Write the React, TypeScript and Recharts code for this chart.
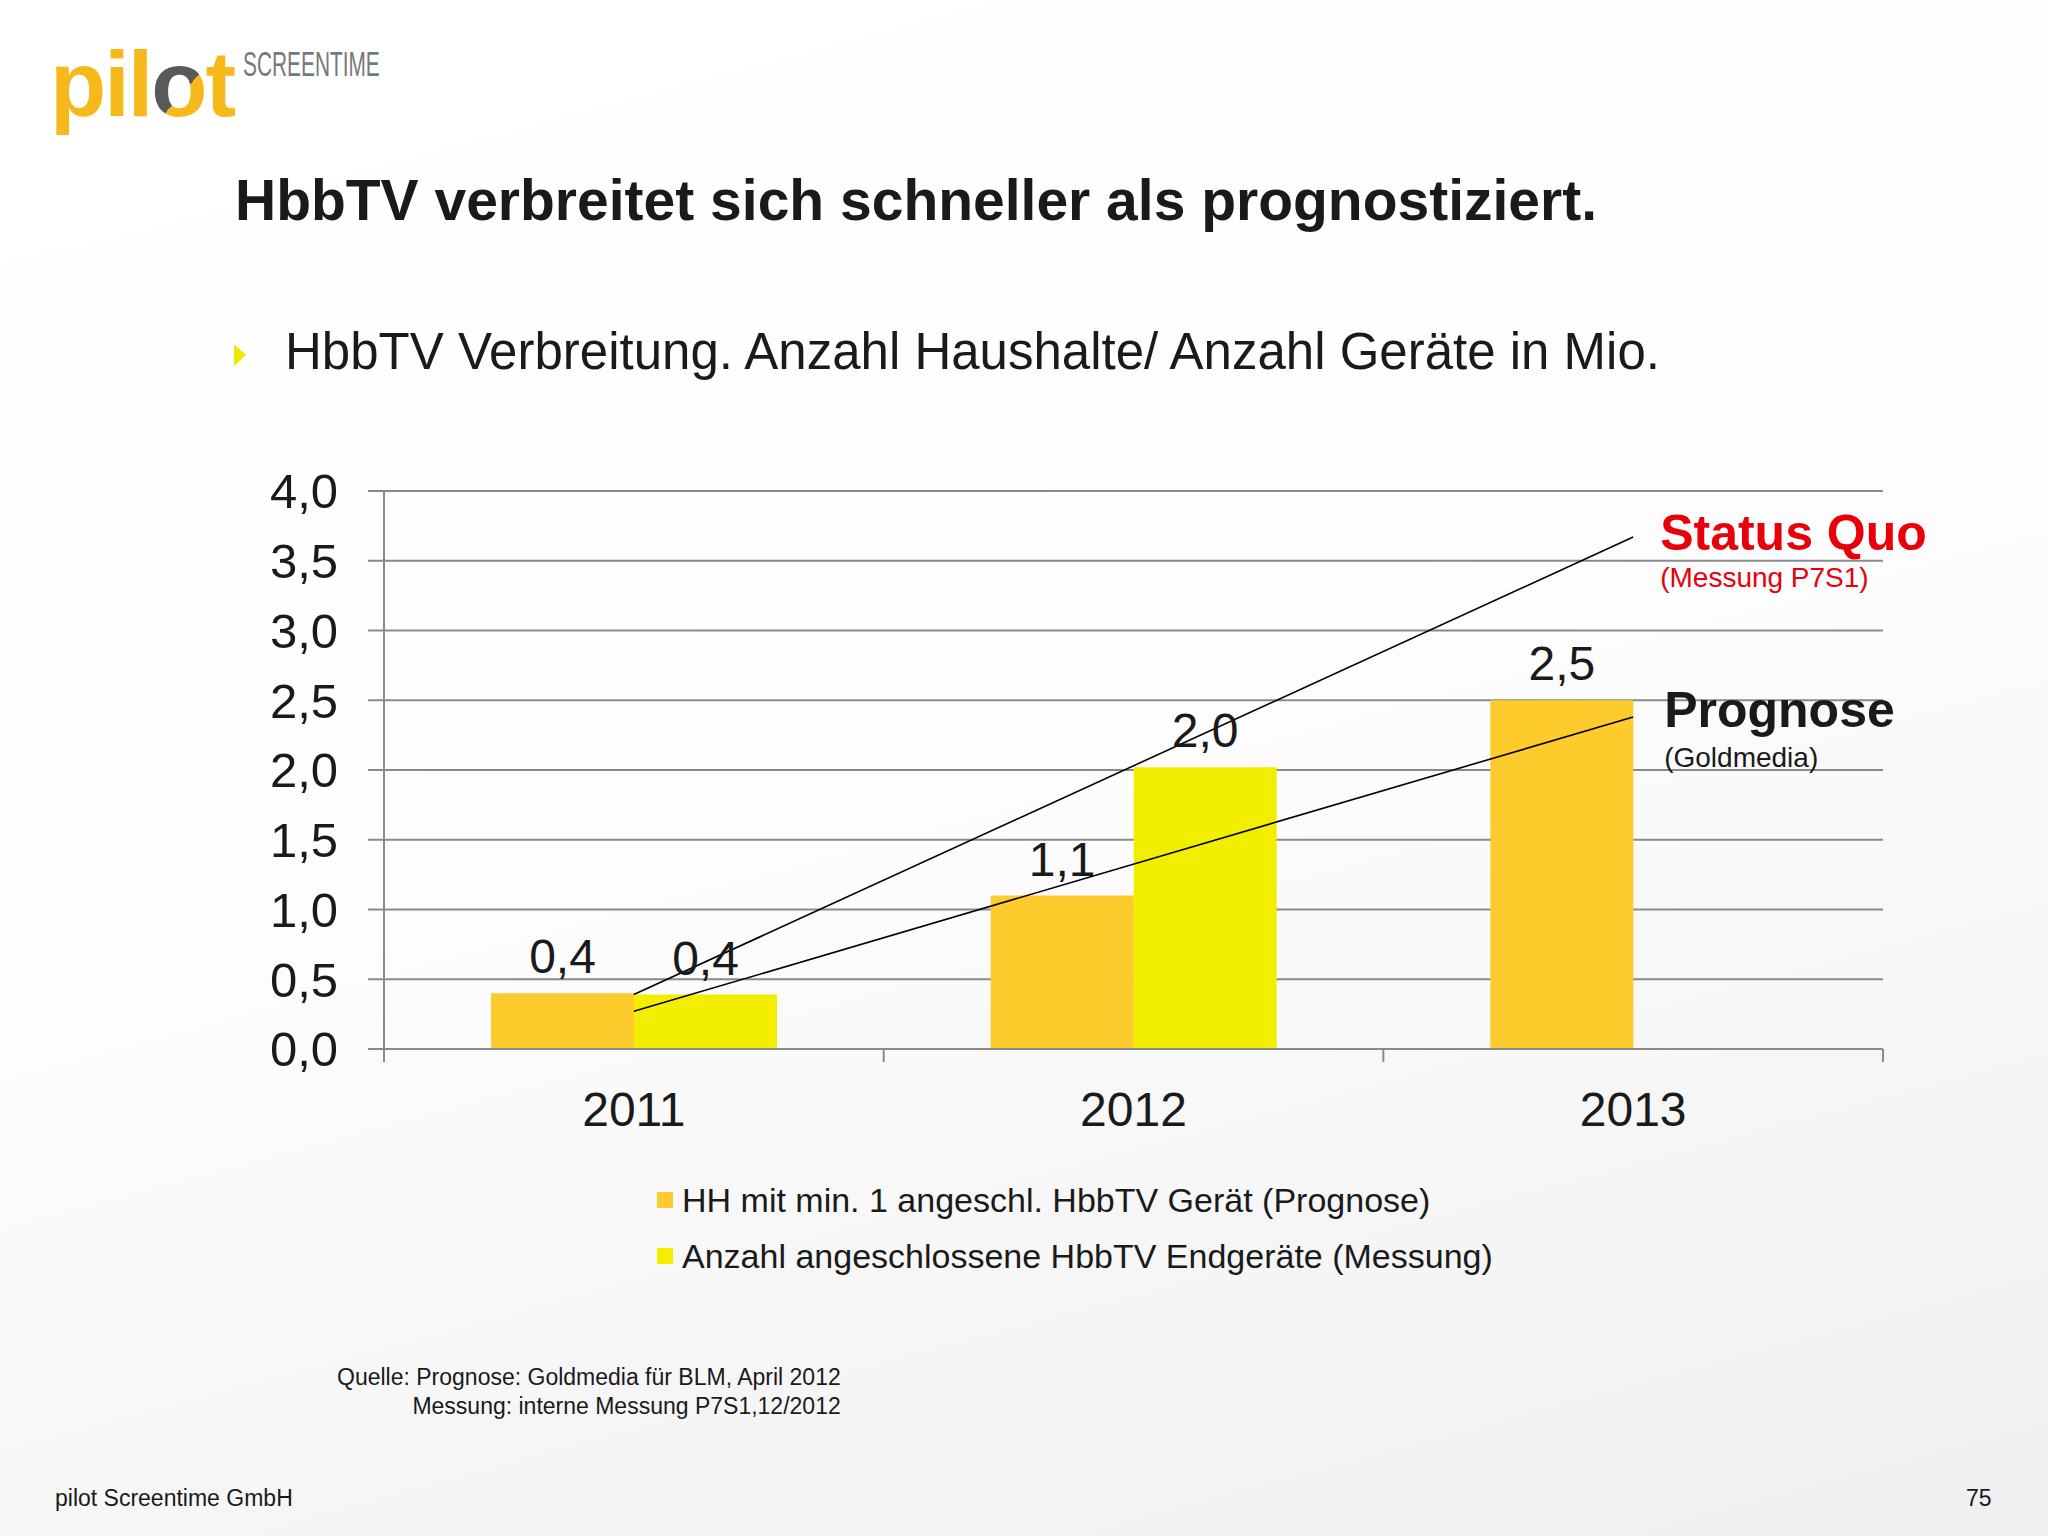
import React from "react";
import { ComposedChart, Bar, Line, XAxis, YAxis, CartesianGrid, Legend, LabelList } from "recharts";

const YEARS = ["2011", "2012", "2013"];
const HH_PROGNOSE = [0.4, 1.1, 2.5];
const ENDGERAETE_MESSUNG = [0.39, 2.02, null];
// hand-drawn trend arrows on the slide, start at 2011 and end at 2013
const TREND_STATUS_QUO = [0.39, null, 3.67];
const TREND_PROGNOSE = [0.27, null, 2.38];
const Y_TICKS = [0, 0.5, 1, 1.5, 2, 2.5, 3, 3.5, 4];
const LEGEND_ORDER = ["hh", "geraete"];

const ORANGE = "#FECB2C";
const YELLOW = "#F3EE00";
const GRID = "#8A8A8A";
const INK = "#1a1a1a";
const FONT = '"Liberation Sans", Arial, Helvetica, sans-serif';
const X_TICK_MARGIN = 43;

const data = YEARS.map((year, i) => ({
  year,
  hh: HH_PROGNOSE[i],
  geraete: ENDGERAETE_MESSUNG[i],
  sq: TREND_STATUS_QUO[i],
  prog: TREND_PROGNOSE[i],
}));

const fmt = (v: any) => (v == null ? "" : Number(v).toFixed(1).replace(".", ","));

// category label plus Excel-style tick marks on the category boundaries
const YearTick = (props: any) => {
  const { x, y, payload, index } = props;
  const half = payload?.offset ?? 0;
  const axisY = y - X_TICK_MARGIN;
  const last = index === YEARS.length - 1;
  return (
    <g>
      <line x1={x - half} x2={x - half} y1={axisY} y2={axisY + 13} stroke={GRID} strokeWidth={2} />
      {last && <line x1={x + half} x2={x + half} y1={axisY} y2={axisY + 13} stroke={GRID} strokeWidth={2} />}
      <text x={x} y={y} dy="0.71em" textAnchor="middle" fontSize={48} fill={INK} fontFamily={FONT}>{payload.value}</text>
    </g>
  );
};

const endLabel = (lastValue: number, title: string, sub: string, color: string, dx: number, dyTitle: number, dySub: number) =>
  (props: any) => {
    const vb = props.viewBox || {};
    const x = props.x ?? vb.x;
    const y = props.y ?? vb.y;
    if (props.value !== lastValue || x == null) return null;
    return (
      <g>
        <text x={x + dx} y={y + dyTitle} fontSize={50} fontWeight={700} fill={color} fontFamily={FONT}>{title}</text>
        <text x={x + dx} y={y + dySub} fontSize={28} fill={color} fontFamily={FONT}>{sub}</text>
      </g>
    );
  };

const renderLegend = (props: any) => {
  const items = (props.payload || [])
    .filter((p: any) => LEGEND_ORDER.includes(p.dataKey))
    .sort((a: any, b: any) => LEGEND_ORDER.indexOf(a.dataKey) - LEGEND_ORDER.indexOf(b.dataKey));
  return (
    <div style={{ height: 112, fontFamily: FONT, fontSize: 34, color: INK }}>
      {items.map((p: any) => (
        <div key={p.value} style={{ display: "flex", alignItems: "center", height: 56, whiteSpace: "nowrap" }}>
          <span style={{ width: 16, height: 16, background: p.color, marginRight: 9, display: "inline-block" }} />
          {p.value}
        </div>
      ))}
    </div>
  );
};

function Logo() {
  return (
    <svg width={420} height={150} style={{ position: "absolute", left: 0, top: 0 }}>
      <defs>
        <linearGradient id="oRing" gradientUnits="userSpaceOnUse" x1={150} y1={70} x2={210} y2={122}>
          <stop offset="0.5" stopColor="#58595b" />
          <stop offset="0.5" stopColor="#F6B81A" />
        </linearGradient>
      </defs>
      <text x={50} y={116} fontSize={92} fontWeight={700} fill="#F6B81A" fontFamily={FONT} letterSpacing={-2}>
        pil<tspan fill="url(#oRing)">o</tspan>t
      </text>
      <text x={243} y={76} fontSize={36} fill="#77787b" fontFamily={FONT} transform="translate(243 0) scale(0.58 1) translate(-243 0)">
        SCREENTIME
      </text>
    </svg>
  );
}

export default function App() {
  return (
    <div
      style={{
        position: "absolute", left: 0, top: 0, width: 2048, height: 1536, overflow: "hidden",
        background: "linear-gradient(165deg, #ffffff 0%, #fdfdfd 50%, #efeff1 100%)", fontFamily: FONT, color: INK,
      }}
    >
      <Logo />
      <div style={{ position: "absolute", left: 235, top: 169, fontSize: 57, fontWeight: 700, lineHeight: "62px", whiteSpace: "nowrap" }}>
        HbbTV verbreitet sich schneller als prognostiziert.
      </div>
      <svg width={14} height={24} style={{ position: "absolute", left: 234, top: 344 }}>
        <polygon points="0,0 12,11 0,22" fill="#F3E600" />
      </svg>
      <div style={{ position: "absolute", left: 285, top: 324, fontSize: 51, lineHeight: "56px", whiteSpace: "nowrap" }}>
        HbbTV Verbreitung. Anzahl Haushalte/ Anzahl Geräte in Mio.
      </div>

      <div style={{ position: "absolute", left: 0, top: 0 }}>
        <ComposedChart width={2048} height={1536} data={data} barGap={0} margin={{ top: 491, right: 165, bottom: 374, left: 0 }}>
          <CartesianGrid vertical={false} stroke={GRID} strokeWidth={2} />
          <XAxis dataKey="year" height={1} axisLine={{ stroke: GRID, strokeWidth: 2 }} tickLine={false} tickSize={0}
            tickMargin={X_TICK_MARGIN} tick={<YearTick />} interval={0} />
          <YAxis width={384} domain={[0, 4]} ticks={Y_TICKS} tickFormatter={fmt} tickSize={16} tickMargin={30}
            axisLine={{ stroke: GRID, strokeWidth: 2 }} tickLine={{ stroke: GRID, strokeWidth: 2 }}
            tick={{ fontSize: 49, fill: INK, fontFamily: FONT }} />
          <Legend content={renderLegend} wrapperStyle={{ left: 657, top: 1172, width: 900 }} />
          <Bar dataKey="hh" name="HH mit min. 1 angeschl. HbbTV Gerät (Prognose)" fill={ORANGE}
            barSize={143} isAnimationActive={false}>
            <LabelList dataKey="hh" position="top" offset={20} formatter={fmt} fontSize={48} fill={INK} fontFamily={FONT} />
          </Bar>
          <Bar dataKey="geraete" name="Anzahl angeschlossene HbbTV Endgeräte (Messung)" fill={YELLOW}
            barSize={143} isAnimationActive={false}>
            <LabelList dataKey="geraete" position="top" offset={20} formatter={fmt} fontSize={48} fill={INK} fontFamily={FONT} />
          </Bar>
          <Line type="linear" dataKey="sq" connectNulls dot={false} activeDot={false} stroke="#000"
            strokeWidth={1.6} legendType="none" isAnimationActive={false}>
            <LabelList dataKey="sq" content={endLabel(TREND_STATUS_QUO[2] as number, "Status Quo", "(Messung P7S1)", "#E8000B", 27, 13, 50)} />
          </Line>
          <Line type="linear" dataKey="prog" connectNulls dot={false} activeDot={false} stroke="#000"
            strokeWidth={1.6} legendType="none" isAnimationActive={false}>
            <LabelList dataKey="prog" content={endLabel(TREND_PROGNOSE[2] as number, "Prognose", "(Goldmedia)", INK, 31, 10, 50)} />
          </Line>
        </ComposedChart>
      </div>

      <div style={{ position: "absolute", left: 337, top: 1363, fontSize: 23, lineHeight: "29px", textAlign: "right", whiteSpace: "pre" }}>
        {"Quelle: Prognose: Goldmedia für BLM, April 2012\nMessung: interne Messung P7S1,12/2012"}
      </div>
      <div style={{ position: "absolute", left: 55, top: 1485, fontSize: 23, whiteSpace: "nowrap" }}>pilot Screentime GmbH</div>
      <div style={{ position: "absolute", left: 1966, top: 1485, fontSize: 23 }}>75</div>
    </div>
  );
}
